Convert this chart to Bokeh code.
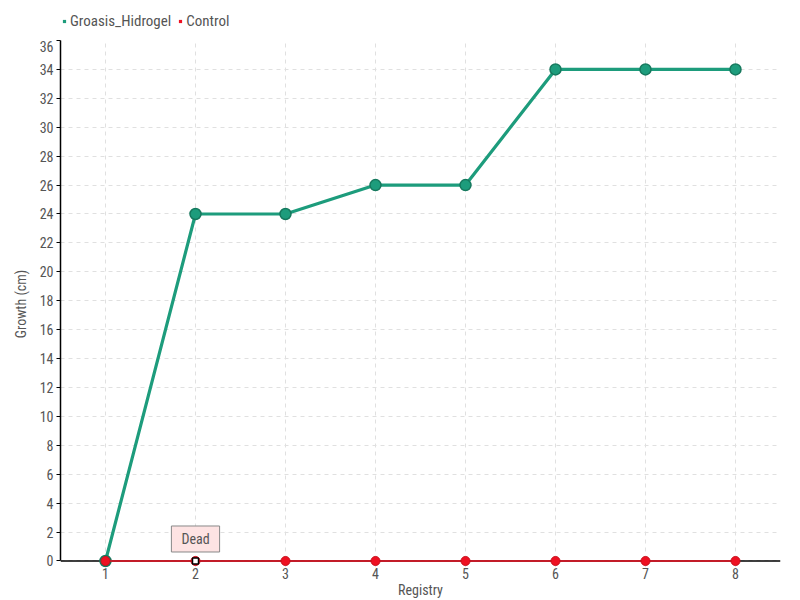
from bokeh.plotting import figure
from bokeh.layouts import column
from bokeh.models import ColumnDataSource, Legend, LegendItem, Label, FixedTicker, Range1d, Span
from bokeh.embed import file_html
from bokeh.resources import INLINE

registry = [1, 2, 3, 4, 5, 6, 7, 8]
groasis_hidrogel = [0, 24, 24, 26, 26, 34, 34, 34]
control = [0, 0, 0, 0, 0, 0, 0, 0]
dead_registry = [2]
dead_value = [0]
dead_text = "Dead"
y_ticks = list(range(0, 37, 2))
series_names = ["Groasis_Hidrogel", "Control"]

FONT = "Roboto Condensed, Roboto, sans-serif"
GREEN = "#1d9c7c"
GREEN_DARK = "#16795e"
RED = "#ee1122"

src_g = ColumnDataSource(dict(x=registry, y=groasis_hidrogel))
src_c = ColumnDataSource(dict(x=registry, y=control))

# ---- legend strip (series drawn out of view; only the legend shows) ----
lf = figure(width=792, height=40, output_backend="svg", toolbar_location=None,
            x_range=Range1d(-20, -19), y_range=Range1d(-20, -19), min_border=0)
lf.axis.visible = False
lf.grid.visible = False
lf.outline_line_color = None
leg_g = lf.scatter("x", "y", source=src_g, marker="square", size=11, fill_color=GREEN, line_color=None)
leg_c = lf.scatter("x", "y", source=src_c, marker="square", size=11, fill_color=RED, line_color=None)
legend = Legend(items=[LegendItem(label=series_names[0], renderers=[leg_g], index=0),
                       LegendItem(label=series_names[1], renderers=[leg_c], index=0)],
                orientation="horizontal", location=(0, 10),
                glyph_width=8, glyph_height=8, label_text_font=FONT, label_text_font_size="15px",
                label_text_color="#555555", label_standoff=2, spacing=5, padding=0, margin=0,
                background_fill_alpha=0, border_line_color=None, label_height=14)
lf.add_layout(legend)

# ---- main plot ----
p = figure(width=792, height=560, output_backend="svg", toolbar_location=None,
           x_range=Range1d(0.5, 8.5), y_range=Range1d(-0.45, 36),
           min_border_left=60, min_border_right=12, min_border_top=0, min_border_bottom=30)
p.outline_line_color = None

p.grid.grid_line_color = "#e0e0e0"
p.grid.grid_line_dash = "4 4"
p.grid.grid_line_width = 1

baseline = Span(location=0, dimension="width", line_color="black", line_width=1.5, level="underlay")
p.add_layout(baseline)

p.line("x", "y", source=src_g, line_color=GREEN, line_width=3.2)
p.scatter("x", "y", source=src_g, size=11, fill_color=GREEN, line_color=GREEN_DARK, line_width=1.5)
p.line("x", "y", source=src_c, line_color=RED, line_width=1.5)
p.scatter("x", "y", source=src_c, size=9, fill_color=RED, line_color="#c8101c", line_width=1)
p.scatter(dead_registry, dead_value, marker="square", size=6, fill_color="white", line_color="black", line_width=1.5)

lab = Label(x=dead_registry[0], y=dead_value[0], text=dead_text, y_offset=9, text_align="center",
            text_baseline="bottom", text_font=FONT, text_font_size="14px", text_color="#555555",
            background_fill_color="#fde3e3", border_line_color="#888888", border_line_width=1,
            padding=(10, 5))
p.add_layout(lab)

p.xaxis.ticker = FixedTicker(ticks=registry)
p.yaxis.ticker = FixedTicker(ticks=y_ticks)
p.xaxis.axis_label = "Registry"
p.yaxis.axis_label = "Growth (cm)"
for ax in (p.xaxis, p.yaxis):
    ax.axis_label_text_font = FONT
    ax.axis_label_text_font_size = "14px"
    ax.axis_label_text_font_style = "normal"
    ax.axis_label_text_color = "#555555"
    ax.major_label_text_font = FONT
    ax.major_label_text_font_size = "14px"
    ax.major_label_text_color = "#555555"
    ax.axis_line_color = "black"
    ax.axis_line_width = 1.5
    ax.minor_tick_line_color = None
    ax.major_tick_line_color = "black"
    ax.major_tick_in = 0
    ax.major_tick_out = 4
p.yaxis.bounds = (0, 36)
p.xaxis.axis_line_color = None
p.xaxis.major_tick_line_color = None
p.xaxis.major_tick_out = 0
p.xaxis.major_label_standoff = 0
p.xaxis.axis_label_standoff = 0
p.yaxis.major_label_standoff = 3
p.yaxis.axis_label_standoff = 8

open("out.html", "w").write(file_html(column(lf, p, spacing=0), INLINE))
